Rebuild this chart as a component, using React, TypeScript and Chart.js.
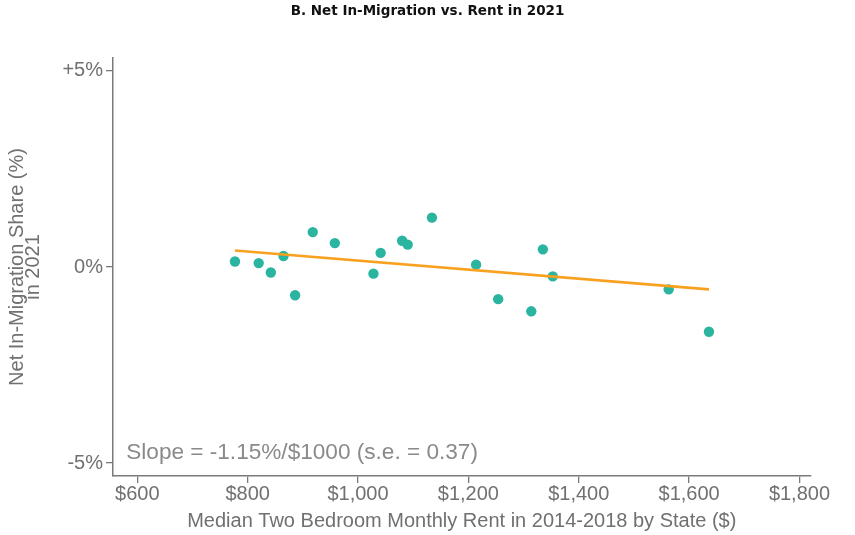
import React, { useEffect, useRef } from "react";
import { Chart, registerables } from "chart.js";

Chart.register(...registerables);

// ---- data ----
const rent = [777, 820, 842, 865, 886, 918, 958, 1028, 1041, 1080, 1090, 1134, 1214, 1254, 1314, 1335, 1353, 1563, 1636];
const migration = [0.14, 0.1, -0.14, 0.28, -0.72, 0.89, 0.61, -0.17, 0.36, 0.67, 0.57, 1.26, 0.06, -0.82, -1.13, 0.45, -0.24, -0.57, -1.65];
const fitRent = [777, 1636];
const fitValue = [0.42, -0.57];
const xTicks = [600, 800, 1000, 1200, 1400, 1600, 1800];
const yTicks = [-5, 0, 5];
const titleText = "B. Net In-Migration vs. Rent in 2021";
const xTitle = "Median Two Bedroom Monthly Rent in 2014-2018 by State ($)";
const yTitle = ["Net In-Migration Share (%)", "in 2021"];
const slopeNote = "Slope = -1.15%/$1000 (s.e. = 0.37)";
const slopeNotePos = { x: 580, y: -4.73 };

const GRAY = "#707070";
const AXIS = "#7a7a7a";
const FONT = "'Liberation Sans', Arial, sans-serif";

const fmtMoney = (v: number) => "$" + v.toLocaleString("en-US");
const fmtPct = (v: number) => (v > 0 ? "+" : "") + v + "%";

const notePlugin = {
  id: "slopeNote",
  afterDatasetsDraw(chart: any) {
    const { ctx, scales } = chart;
    const x = scales.x.getPixelForValue(slopeNotePos.x);
    const y = scales.y.getPixelForValue(slopeNotePos.y);
    ctx.save();
    ctx.font = `22.6px ${FONT}`;
    ctx.fillStyle = "#8a8a8a";
    ctx.textAlign = "left";
    ctx.textBaseline = "middle";
    ctx.fillText(slopeNote, x, y);
    ctx.restore();
  },
};

export default function App() {
  const ref = useRef<HTMLCanvasElement>(null);
  useEffect(() => {
    if (!ref.current) return;
    const chart = new Chart(ref.current, {
      type: "scatter",
      data: {
        datasets: [
          {
            type: "scatter",
            data: rent.map((r, i) => ({ x: r, y: migration[i] })),
            backgroundColor: "#2bb5a1",
            borderColor: "#2bb5a1",
            borderWidth: 0,
            pointRadius: 5.2,
            order: 2,
          },
          {
            type: "line",
            data: fitRent.map((r, i) => ({ x: r, y: fitValue[i] })),
            borderColor: "#f9a11e",
            borderWidth: 2.6,
            pointRadius: 0,
            fill: false,
            order: 1,
          } as any,
        ],
      },
      options: {
        animation: false,
        responsive: false,
        devicePixelRatio: 1,
        layout: { padding: { left: 0, right: 0, top: 0, bottom: 0 } },
        plugins: {
          legend: { display: false },
          tooltip: { enabled: false },
          title: {
            display: true,
            text: titleText,
            color: "#111",
            font: { family: "'DejaVu Sans', sans-serif", size: 13.5, weight: "bold", lineHeight: 1.2 },
            padding: { top: 3, bottom: 38.8 },
          },
        },
        scales: {
          x: {
            type: "linear",
            min: 556,
            max: 1820,
            afterFit: (s: any) => {
              s.height = 59;
            },
            afterBuildTicks: (s: any) => {
              s.ticks = xTicks.map((v) => ({ value: v }));
            },
            grid: { display: true, drawOnChartArea: false, drawTicks: true, tickLength: 7, color: AXIS, lineWidth: 1.3 },
            border: { display: true, color: AXIS, width: 1.5 },
            ticks: {
              color: GRAY,
              padding: 1,
              maxRotation: 0,
              autoSkip: false,
              font: { family: FONT, size: 20, lineHeight: 1 },
              callback: (v: any) => fmtMoney(Number(v)),
            },
            title: {
              display: true,
              text: xTitle,
              color: GRAY,
              font: { family: FONT, size: 20, lineHeight: 1 },
              padding: { top: 0, bottom: 4 },
            },
          },
          y: {
            type: "linear",
            min: -5.33,
            max: 5.33,
            afterFit: (s: any) => {
              s.width = 113;
            },
            afterBuildTicks: (s: any) => {
              s.ticks = yTicks.map((v) => ({ value: v }));
            },
            grid: { display: true, drawOnChartArea: false, drawTicks: true, tickLength: 7, color: AXIS, lineWidth: 1.3 },
            border: { display: true, color: AXIS, width: 1.5 },
            ticks: {
              color: GRAY,
              padding: 3,
              autoSkip: false,
              font: { family: FONT, size: 20, lineHeight: 1 },
              callback: (v: any) => fmtPct(Number(v)),
            },
            title: {
              display: true,
              text: yTitle,
              color: GRAY,
              font: { family: FONT, size: 20, lineHeight: 0.8 },
              padding: { top: 9, bottom: 0 },
            },
          },
          // empty right-hand margin so the title stays centred on the page
          yRight: {
            type: "linear",
            position: "right",
            display: true,
            min: -5.33,
            max: 5.33,
            afterFit: (s: any) => {
              s.width = 44.5;
            },
            grid: { display: false, drawTicks: false },
            border: { display: false },
            ticks: { display: false },
          },
        },
      },
      plugins: [notePlugin],
    });
    return () => chart.destroy();
  }, []);
  return (
    <div style={{ position: "absolute", left: 0, top: 0, width: 855, height: 535, background: "#fff" }}>
      <canvas ref={ref} width={855} height={535} style={{ display: "block" }} />
    </div>
  );
}
